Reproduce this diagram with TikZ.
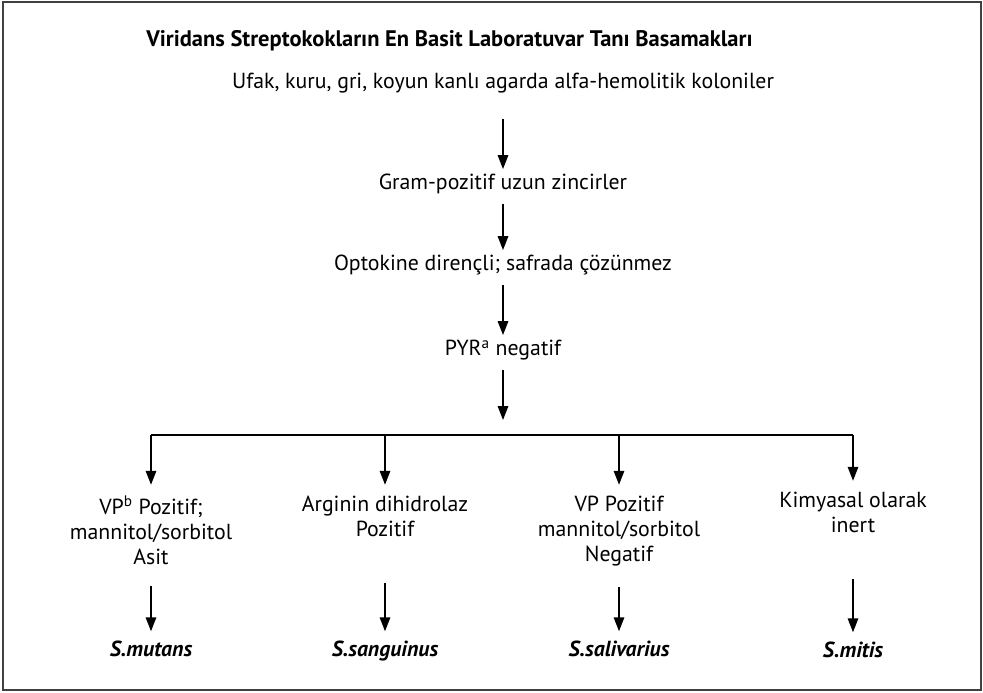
\documentclass[tikz,border=0pt]{standalone}
\usepackage{fontspec}
\setmainfont{PT Sans}
\usetikzlibrary{arrows.meta,positioning}

\tikzset{
    lbl/.style={inner sep=0pt, align=center, text height=0.38cm, text depth=0.11cm,
        font=\fontsize{15.5}{17.8}\selectfont},
    kol/.style={inner sep=0pt, align=center, anchor=north,
        font=\fontsize{15.5}{17.8}\selectfont},
    tur/.style={lbl, font=\fontsize{15.5}{17.8}\selectfont\bfseries\itshape},
    arr/.style={-{Triangle[length=3.5mm,width=2.6mm]}, line width=1.3pt},
    ana/.style={arr, shorten <=2.4mm, shorten >=1.2mm},
    alt/.style={arr, shorten <=5.2mm, shorten >=2.4mm},
}

\begin{document}
\begin{tikzpicture}[x=0.025cm, y=-0.025cm]
        \useasboundingbox (0,0) rectangle (983,692);
        \draw[line width=1.2pt, black!75] (3,2) rectangle (981,690);

        \node[lbl, anchor=west, font=\fontsize{16}{18}\selectfont\bfseries] at (146, 41)(baslik)
            {Viridans Streptokokların En Basit Laboratuvar Tanı Basamakları};

        \node[lbl] at (503, 83)(koloni){Ufak, kuru, gri, koyun kanlı agarda alfa-hemolitik koloniler};
        \node[lbl] at (503, 184)(gram){Gram-pozitif uzun zincirler};
        \node[lbl] at (503, 265)(opto){Optokine dirençli; safrada çözünmez};
        \node[lbl] at (503, 350)(pyr){PYR\textsuperscript{a} negatif};

        \coordinate (dal) at (503, 420);
        \coordinate (k1) at (151, 435);
        \coordinate (k2) at (385, 435);
        \coordinate (k3) at (619, 435);
        \coordinate (k4) at (853, 435);

        \node[kol] at (151, 496)(vp1){VP\textsuperscript{b} Pozitif;\\mannitol/sorbitol\\Asit};
        \node[kol] at (385, 496)(arg){Arginin dihidrolaz\\Pozitif\\~};
        \node[kol] at (619, 496)(vp2){VP Pozitif\\mannitol/sorbitol\\Negatif};
        \node[kol] at (853, 492)(inert){Kimyasal olarak\\inert\\~};

        \node[tur] at (151, 651)(mutans){S.mutans};
        \node[tur] at (385, 651)(sang){S.sanguinus};
        \node[tur] at (619, 651)(saliv){S.salivarius};
        \node[tur] at (853, 652)(mitis){S.mitis};

        \path[ana]
        (koloni)edge [shorten <=6.4mm] (gram)
        (gram)edge (opto)
        (opto)edge (pyr)
        (pyr)edge [shorten >=0pt] (dal)
        ;
        \draw[line width=1.3pt] (k1) -- (k4);
        \path[arr, shorten >=2.8mm]
        (k1)edge (vp1)
        (k2)edge (arg)
        (k3)edge (vp2)
        (k4)edge (inert)
        ;
        \path[alt]
        (vp1)edge (mutans)
        (arg)edge (sang)
        (vp2)edge (saliv)
        (inert)edge (mitis)
        ;
    \end{tikzpicture}
\end{document}
